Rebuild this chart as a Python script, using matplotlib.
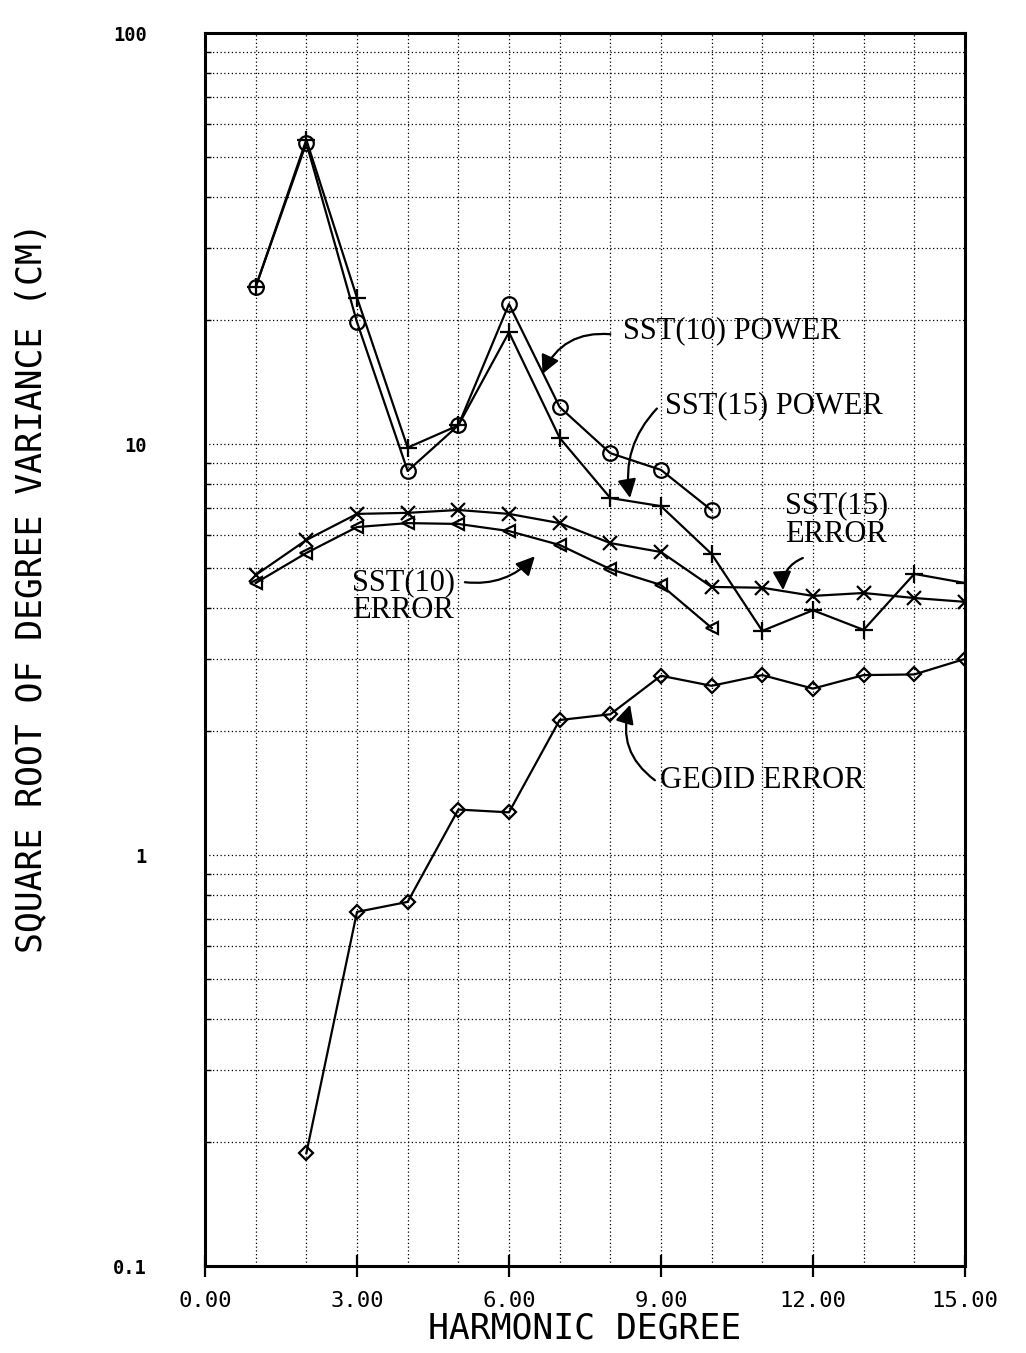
import matplotlib
matplotlib.use("Agg")
import matplotlib.pyplot as plt
from matplotlib.ticker import MultipleLocator, FixedLocator, FixedFormatter, LogLocator, NullFormatter

# values (cm)
deg_10 = [1, 2, 3, 4, 5, 6, 7, 8, 9, 10]
deg_15 = [1, 2, 3, 4, 5, 6, 7, 8, 9, 10, 11, 12, 13, 14, 15]
deg_geoid = [2, 3, 4, 5, 6, 7, 8, 9, 10, 11, 12, 13, 14, 15]

sst10_power = [24.1, 54.0, 19.8, 8.6, 11.1, 21.9, 12.3, 9.5, 8.65, 6.9]
sst15_power = [24.1, 55.0, 22.7, 9.8, 11.1, 18.7, 10.35, 7.39, 7.06, 5.4, 3.51, 3.94, 3.53, 4.83, 4.59]
sst15_error = [4.8, 5.84, 6.76, 6.8, 6.91, 6.76, 6.42, 5.74, 5.46, 4.49, 4.47, 4.27, 4.34, 4.22, 4.13]
sst10_error = [4.59, 5.43, 6.28, 6.42, 6.39, 6.14, 5.68, 4.96, 4.54, 3.57]
geoid_error = [0.188, 0.727, 0.769, 1.29, 1.27, 2.13, 2.2, 2.73, 2.58, 2.74, 2.54, 2.74, 2.75, 3.0]

xticks = [0, 3, 6, 9, 12, 15]
xtick_labels = ["0.00", "3.00", "6.00", "9.00", "12.00", "15.00"]
yticks = [0.1, 1, 10, 100]
ytick_labels = ["0.1", "1", "10", "100"]

mono = "DejaVu Sans Mono"
serif = "Liberation Serif"

fig = plt.figure(figsize=(10.26, 13.53), dpi=100)
ax = fig.add_axes([0.1998, 0.0643, 0.7407, 0.9113])
ax.set_yscale("log")
ax.set_xlim(0, 15)
ax.set_ylim(0.1, 100)

ms = 10.5
kw = dict(color="black", lw=1.6, mfc="none", mec="black", mew=1.6)
ax.plot(deg_10, sst10_power, marker="o", ms=ms, **kw)
ax.plot(deg_15, sst15_power, marker="+", ms=ms + 3, **kw)
ax.plot(deg_15, sst15_error, marker="x", ms=ms, **kw)
ax.plot(deg_10, sst10_error, marker="<", ms=ms - 2, **kw)
ax.plot(deg_geoid, geoid_error, marker="D", ms=7, **kw)

# grid
ax.xaxis.set_major_locator(FixedLocator(xticks))
ax.xaxis.set_major_formatter(FixedFormatter(xtick_labels))
ax.xaxis.set_minor_locator(MultipleLocator(1))
ax.yaxis.set_major_locator(FixedLocator(yticks))
ax.yaxis.set_major_formatter(FixedFormatter(ytick_labels))
ax.yaxis.set_minor_locator(LogLocator(base=10, subs=range(2, 10)))
ax.yaxis.set_minor_formatter(NullFormatter())
ax.grid(True, which="both", color="black", lw=0.9, ls=(0, (1, 2)))

for s in ax.spines.values():
    s.set_linewidth(2.2)

ax.tick_params(axis="x", which="major", direction="inout", length=16, width=1.6, pad=10)
ax.tick_params(axis="x", which="minor", length=0)
ax.tick_params(axis="y", which="major", length=0, pad=42)
ax.tick_params(axis="y", which="minor", direction="in", length=4, width=1)
for t in ax.get_xticklabels():
    t.set_fontfamily(mono)
    t.set_fontsize(16)
for t in ax.get_yticklabels():
    t.set_fontfamily(mono)
    t.set_fontsize(13.5)
    t.set_fontweight("bold")

ax.set_xlabel("HARMONIC DEGREE", family=mono, fontsize=25, labelpad=0)
ax.set_ylabel("SQUARE ROOT OF DEGREE VARIANCE (CM)", family=mono, fontsize=25)
ax.yaxis.set_label_coords(-0.205, 0.55)

# annotations
tkw = dict(family=serif, fontsize=22, color="black")
akw = dict(arrowstyle="-|>", color="black", lw=1.6, mutation_scale=28, shrinkA=0, shrinkB=0)

ax.text(8.25, 18.9, "SST(10) POWER", ha="left", va="center", **tkw)
ax.annotate("", xy=(6.66, 14.8), xytext=(8.0, 18.5),
            arrowprops=dict(connectionstyle="arc3,rad=0.35", **akw))

ax.text(9.08, 12.4, "SST(15) POWER", ha="left", va="center", **tkw)
ax.annotate("", xy=(8.39, 7.39), xytext=(8.92, 12.2),
            arrowprops=dict(connectionstyle="arc3,rad=0.25", **akw))

ax.text(11.45, 6.53, "SST(15)\nERROR", ha="left", va="center", linespacing=0.95, **tkw)
ax.annotate("", xy=(11.41, 4.41), xytext=(11.8, 5.28),
            arrowprops=dict(connectionstyle="arc3,rad=0.35", **akw))

ax.text(2.90, 4.25, "SST(10)\nERROR", ha="left", va="center", linespacing=0.95, **tkw)
ax.annotate("", xy=(6.51, 5.33), xytext=(5.13, 4.61),
            arrowprops=dict(connectionstyle="arc3,rad=0.25", **akw))

ax.text(8.98, 1.52, "GEOID ERROR", ha="left", va="center", **tkw)
ax.annotate("", xy=(8.39, 2.32), xytext=(8.88, 1.52),
            arrowprops=dict(connectionstyle="arc3,rad=-0.35", **akw))

fig.savefig("out.png", dpi=100)
